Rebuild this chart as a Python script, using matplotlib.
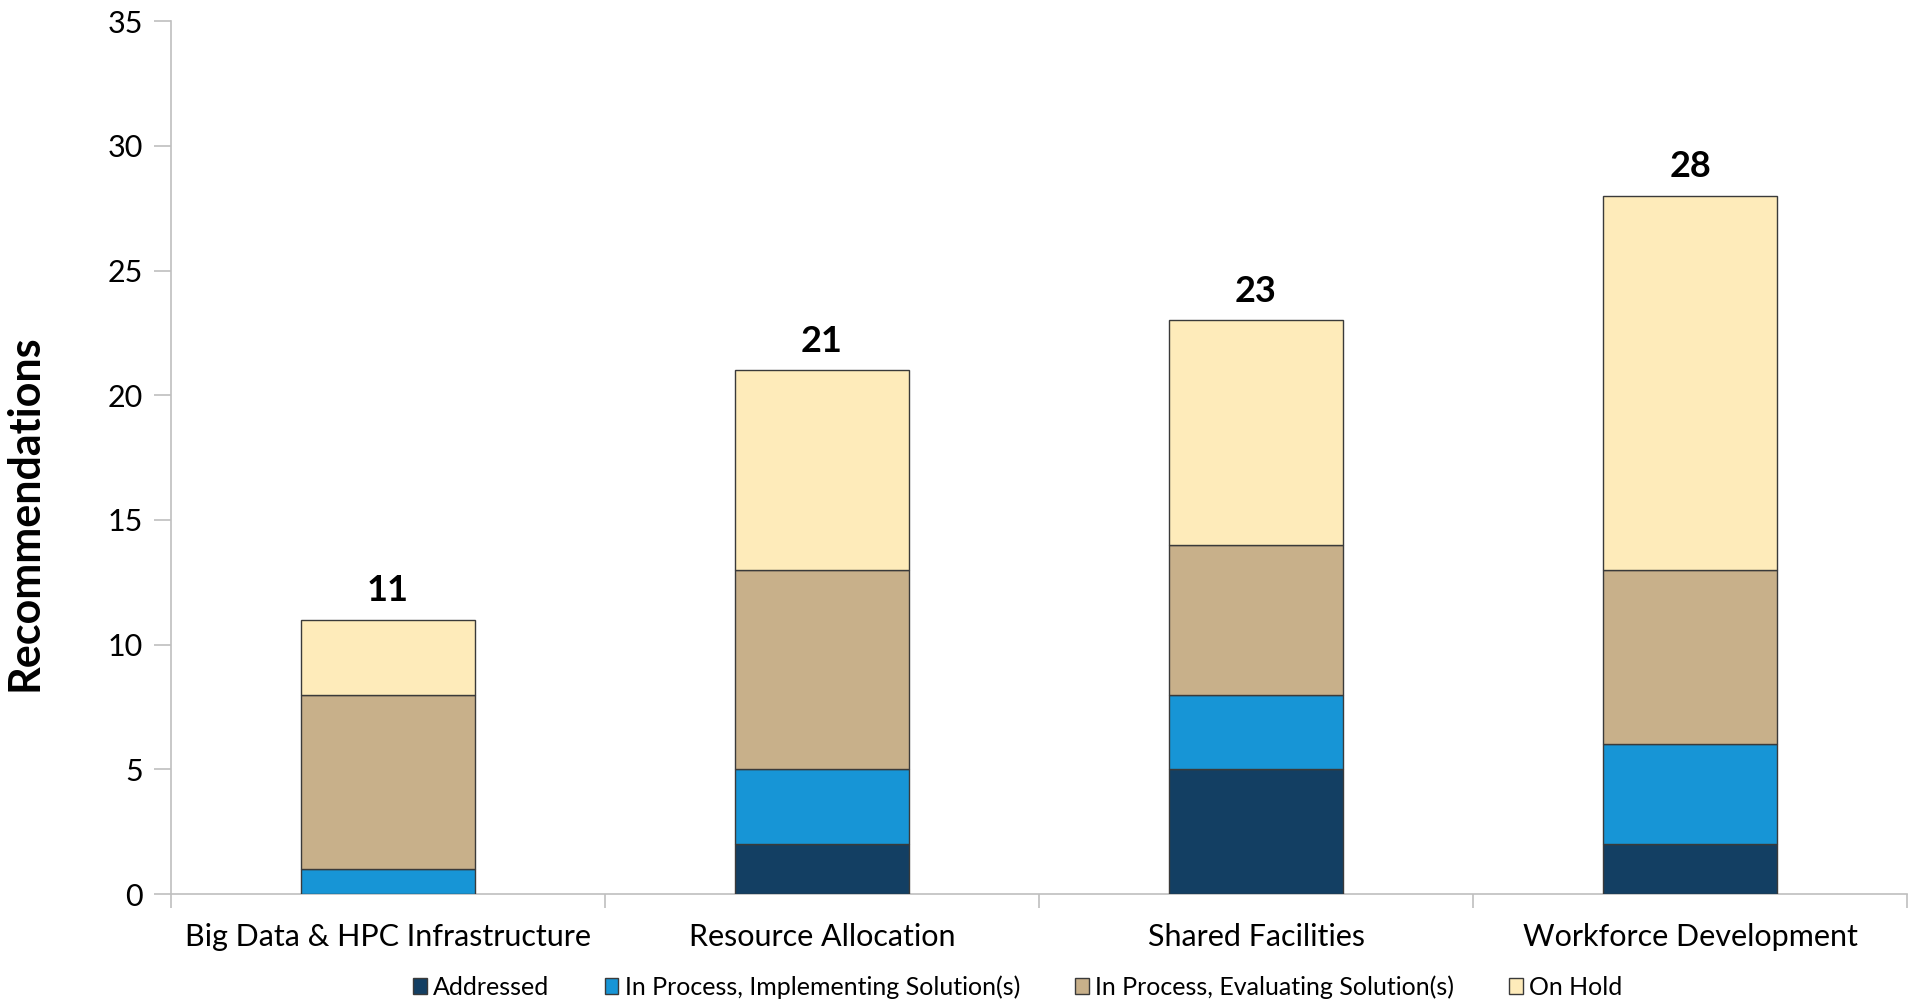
import matplotlib
matplotlib.use("Agg")
import matplotlib.pyplot as plt
import numpy as np

plt.rcParams['font.family'] = ['Lato', 'DejaVu Sans']

categories = ["Big Data & HPC Infrastructure", "Resource Allocation",
              "Shared Facilities", "Workforce Development"]
series_names = ["Addressed", "In Process, Implementing Solution(s)",
                "In Process, Evaluating Solution(s)", "On Hold"]
addressed = [0, 2, 5, 2]
implementing = [1, 3, 3, 4]
evaluating = [7, 8, 6, 7]
on_hold = [3, 8, 9, 15]
totals = [11, 21, 23, 28]
colors = ["#133F63", "#1795D6", "#C8B08A", "#FEEBBA"]

fig = plt.figure(figsize=(19.13, 10.05), dpi=100)
ax = fig.add_axes([0.0894, 0.1104, 0.9075, 0.8686])

x = np.arange(len(categories))
bottom = np.zeros(len(categories))
handles = []
for name, vals, c in zip(series_names, [addressed, implementing, evaluating, on_hold], colors):
    vals = np.array(vals, dtype=float)
    bars = ax.bar(x, vals, width=0.40, bottom=bottom, color=c,
                  edgecolor="#3a3a3a", linewidth=1.0, label=name, zorder=3)
    handles.append(bars)
    bottom += vals

for xi, t in zip(x, totals):
    ax.text(xi, t + 0.5, str(t), ha="center", va="bottom",
            fontsize=26, fontweight="bold", color="black")

ax.set_xlim(-0.5, len(categories) - 0.5)
ax.set_ylim(0, 35)
ax.set_yticks(range(0, 36, 5))
ax.set_xticks(x)
ax.set_xticklabels(categories, fontsize=22)
ax.set_xticks(np.arange(-0.5, len(categories), 1.0), minor=True)
ax.tick_params(axis="x", which="major", length=0, pad=21)
ax.tick_params(axis="x", which="minor", length=10, color="#BFBFBF", width=1.2)
ax.tick_params(axis="y", length=12, color="#BFBFBF", width=1.2, labelsize=22, pad=8)

for s in ["top", "right"]:
    ax.spines[s].set_visible(False)
for s in ["left", "bottom"]:
    ax.spines[s].set_color("#BFBFBF")
    ax.spines[s].set_linewidth(1.2)

ax.set_ylabel("Recommendations", fontsize=31, fontweight="bold")
ax.yaxis.set_label_coords(-0.073, 0.437)

leg = fig.legend(handles=handles, labels=series_names, loc="center",
                 bbox_to_anchor=(0.532, 0.018), ncol=4, frameon=False,
                 fontsize=18, handlelength=0.55, handleheight=0.6,
                 handletextpad=0.25, columnspacing=2.2)

fig.savefig("out.png", dpi=100)
